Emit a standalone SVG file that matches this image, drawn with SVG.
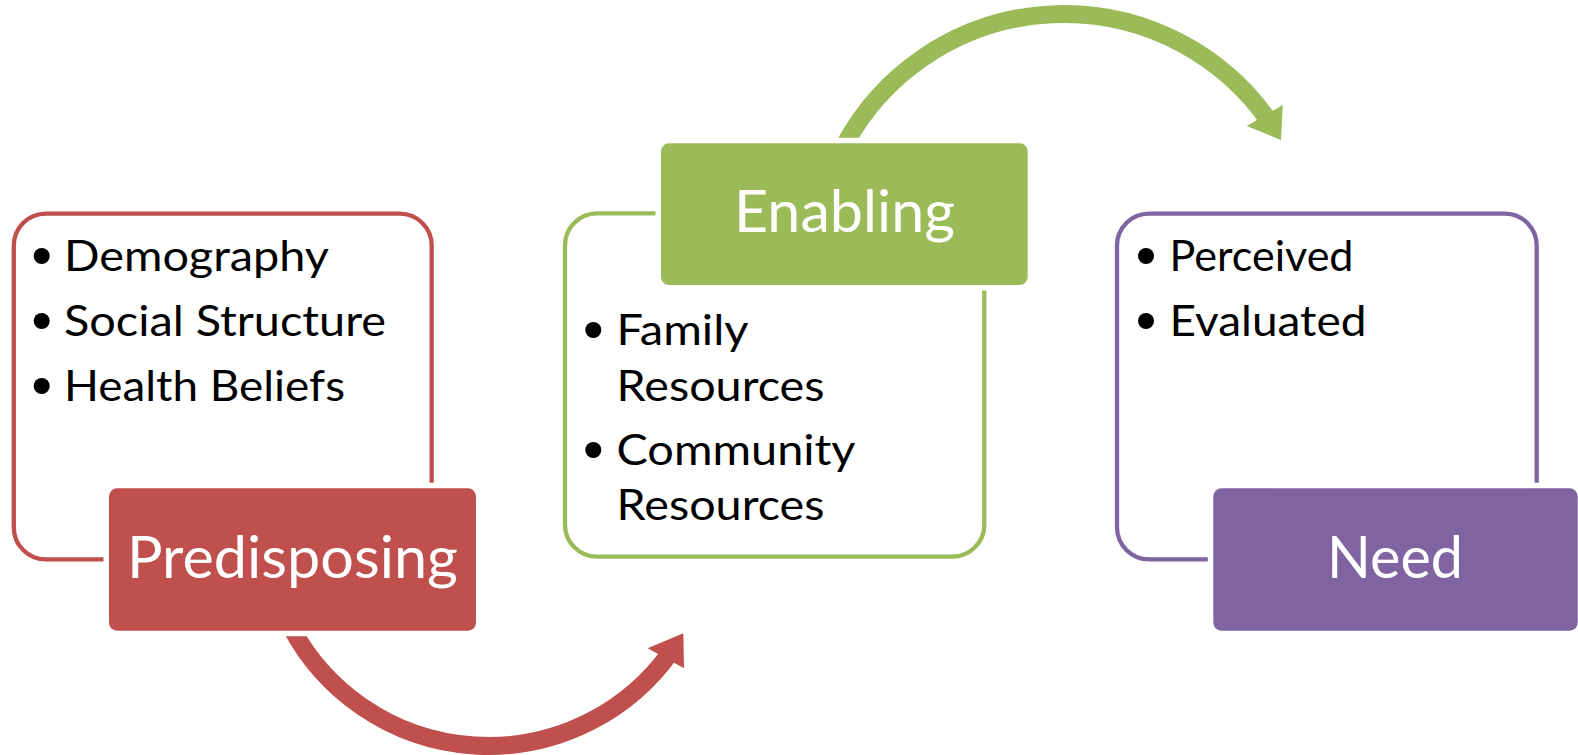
<svg xmlns="http://www.w3.org/2000/svg" width="1578" height="755" viewBox="0 0 1578 755">
<style>
.outline{fill:none;stroke-width:4.3}
.gap{fill:#FFFFFF}
.title{font-family:Lato,"Open Sans","Liberation Sans",sans-serif;font-size:58px;fill:#FFFFFF}
.item{font-family:Lato,"Open Sans","Liberation Sans",sans-serif;font-size:43px;fill:#000000}
.arc{fill:none;stroke-width:18}
</style>
<rect width="1578" height="755" fill="#FFFFFF"/>
<g id="outlines">
<rect id="predisposing-frame" class="outline" x="13.8" y="213.6" width="417.9" height="345.8" rx="32" stroke="#C0504D"/>
<rect id="enabling-frame" class="outline" x="565" y="213.4" width="419.3" height="343.3" rx="32" stroke="#9BBB59"/>
<rect id="need-frame" class="outline" x="1117" y="213.6" width="419.7" height="345.7" rx="32" stroke="#8064A2"/>
</g>
<g id="connectors">
<path class="arc" stroke="#C0504D" d="M 291.5 628 A 223.6 223.6 0 0 0 670.6 652.2"/>
<polygon fill="#C0504D" points="647.7,648.3 683.3,633.3 684,668.3"/>
<path class="arc" stroke="#9BBB59" d="M 844.5 145 A 249.6 249.6 0 0 1 1269.8 122.2"/>
<polygon fill="#9BBB59" points="1246.7,126 1282.7,105 1281,140"/>
</g>
<g id="predisposing">
<rect class="gap" x="103.5" y="482.8" width="378" height="153.4" rx="13.5"/>
<rect x="109" y="488.3" width="367" height="142.4" rx="8" fill="#C0504D"/>
<text class="title" x="127" y="578" textLength="331" lengthAdjust="spacingAndGlyphs">Predisposing</text>
<circle cx="41.7" cy="256" r="8"/>
<circle cx="41.7" cy="321" r="8"/>
<circle cx="41.7" cy="386" r="8"/>
<text class="item" x="64" y="271" textLength="265" lengthAdjust="spacingAndGlyphs">Demography</text>
<text class="item" x="64" y="336" textLength="322" lengthAdjust="spacingAndGlyphs">Social Structure</text>
<text class="item" x="64" y="401" textLength="281" lengthAdjust="spacingAndGlyphs">Health Beliefs</text>
</g>
<g id="enabling">
<rect class="gap" x="655.5" y="137.8" width="377.7" height="152.7" rx="13.5"/>
<rect x="661" y="143.3" width="366.7" height="141.7" rx="8" fill="#9BBB59"/>
<text class="title" x="734" y="231.7" textLength="221" lengthAdjust="spacingAndGlyphs">Enabling</text>
<circle cx="593.3" cy="330" r="8"/>
<circle cx="593.3" cy="450" r="8"/>
<text class="item" x="616.5" y="345" textLength="132" lengthAdjust="spacingAndGlyphs">Family</text>
<text class="item" x="616.5" y="400.7" textLength="208" lengthAdjust="spacingAndGlyphs">Resources</text>
<text class="item" x="616.5" y="465" textLength="239" lengthAdjust="spacingAndGlyphs">Community</text>
<text class="item" x="616.5" y="520" textLength="208" lengthAdjust="spacingAndGlyphs">Resources</text>
</g>
<g id="need">
<rect class="gap" x="1207.8" y="482.8" width="375.4" height="153.4" rx="13.5"/>
<rect x="1213.3" y="488.3" width="364.4" height="142.4" rx="8" fill="#8064A2"/>
<text class="title" x="1327" y="578.3" textLength="136" lengthAdjust="spacingAndGlyphs">Need</text>
<circle cx="1146" cy="256" r="8"/>
<circle cx="1146" cy="321" r="8"/>
<text class="item" x="1169.5" y="271" textLength="184" lengthAdjust="spacingAndGlyphs">Perceived</text>
<text class="item" x="1169.5" y="336" textLength="197" lengthAdjust="spacingAndGlyphs">Evaluated</text>
</g>
</svg>
